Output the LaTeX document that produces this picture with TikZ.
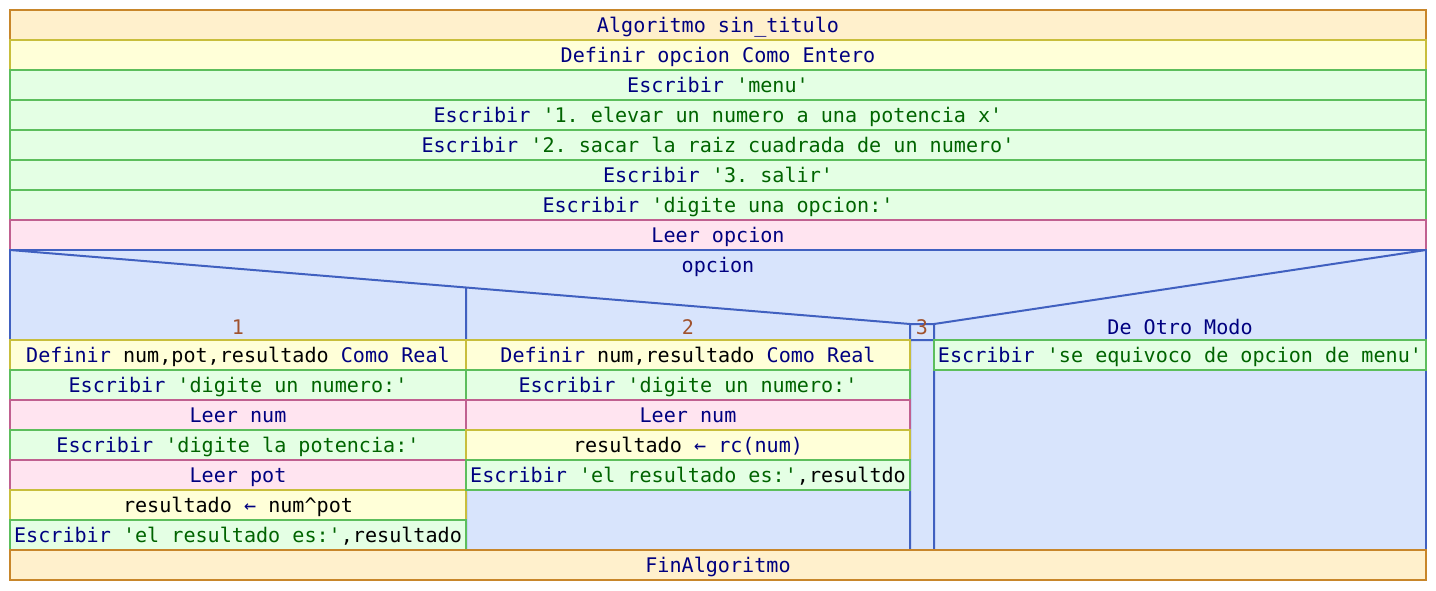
\documentclass[tikz,border=0pt]{standalone}
\usepackage{fontspec}
\setmonofont{DejaVu Sans Mono}
\definecolor{kwblue}{RGB}{0,0,128}
\definecolor{strgreen}{RGB}{0,100,0}
\definecolor{numbrown}{RGB}{160,82,45}
\definecolor{algfill}{RGB}{255,240,204}
\definecolor{algline}{RGB}{200,134,42}
\definecolor{deffill}{RGB}{255,255,216}
\definecolor{defline}{RGB}{200,190,60}
\definecolor{escfill}{RGB}{228,255,228}
\definecolor{escline}{RGB}{92,190,92}
\definecolor{leerfill}{RGB}{255,228,240}
\definecolor{leerline}{RGB}{192,96,144}
\definecolor{segfill}{RGB}{216,228,252}
\definecolor{segline}{RGB}{64,96,192}
\newcommand{\strg}[1]{\textcolor{strgreen}{#1}}
\newcommand{\vrb}[1]{\textcolor{black}{#1}}

\begin{document}
\begin{tikzpicture}[x=1pt,y=-1pt,
    every node/.style = {font=\ttfamily\fontsize{20.1}{24}\selectfont,
    text=kwblue, inner sep=0pt, outer sep=0pt, text height=17pt, text depth=3pt},
    cell/.style={draw, line width=2pt, minimum height=30pt},
    calg/.style={cell, fill=algfill, draw=algline},
    cdef/.style={cell, fill=deffill, draw=defline},
    cesc/.style={cell, fill=escfill, draw=escline},
    cleer/.style={cell, fill=leerfill, draw=leerline},
    cseg/.style={cell, fill=segfill, draw=segline},
    sline/.style={draw=segline, line width=2pt},
    lbl/.style={text=numbrown},
    wide/.style={minimum width=1416pt},
    col1/.style={minimum width=456pt},
    col2/.style={minimum width=444pt},
    col4/.style={minimum width=492pt}]
    \useasboundingbox (0,0) rectangle (1436,590);
    \node[calg, wide] (alg) at (718,25) {Algoritmo sin\_titulo};
    \node[cdef, wide] (def) at (718,55) {Definir opcion Como Entero};
    \node[cesc, wide] (e1) at (718,85) {Escribir \strg{'menu'}};
    \node[cesc, wide] (e2) at (718,115) {Escribir \strg{'1. elevar un numero a una potencia x'}};
    \node[cesc, wide] (e3) at (718,145) {Escribir \strg{'2. sacar la raiz cuadrada de un numero'}};
    \node[cesc, wide] (e4) at (718,175) {Escribir \strg{'3. salir'}};
    \node[cesc, wide] (e5) at (718,205) {Escribir \strg{'digite una opcion:'}};
    \node[cleer, wide] (leer) at (718,235) {Leer opcion};
    \node[cseg, wide, minimum height=300pt] (seg) at (718,400) {};
    \node (sel) at (718,265) {opcion};
    \coordinate (d1) at (466,287.5);
    \coordinate (c3l) at (910,324);
    \coordinate (c3r) at (934,324);
    \coordinate (b3l) at (910,340);
    \coordinate (b3r) at (934,340);
    \path[sline]
        (seg.north west) -- (c3l) -- (c3r) -- (seg.north east)
        (b3l) -- (b3r)
        (d1) -- (d1 |- seg.south)
        (c3l) -- (c3l |- seg.south)
        (c3r) -- (c3r |- seg.south);
    \node[lbl] (l1) at (238,327) {1};
    \node[lbl] (l2) at (688,327) {2};
    \node[lbl] (l3) at (922,327) {3};
    \node (l4) at (1180,327) {De Otro Modo};
    \node[cdef, col1] (a1) at (238,355) {Definir \vrb{num,pot,resultado} Como Real};
    \node[cesc, col1] (a2) at (238,385) {Escribir \strg{'digite un numero:'}};
    \node[cleer, col1] (a3) at (238,415) {Leer num};
    \node[cesc, col1] (a4) at (238,445) {Escribir \strg{'digite la potencia:'}};
    \node[cleer, col1] (a5) at (238,475) {Leer pot};
    \node[cdef, col1] (a6) at (238,505) {\vrb{resultado} ← \vrb{num\textasciicircum pot}};
    \node[cesc, col1] (a7) at (238,535) {Escribir \strg{'el resultado es:'}\vrb{,resultado}};
    \node[cdef, col2] (b1) at (688,355) {Definir \vrb{num,resultado} Como Real};
    \node[cesc, col2] (b2) at (688,385) {Escribir \strg{'digite un numero:'}};
    \node[cleer, col2] (b3) at (688,415) {Leer num};
    \node[cdef, col2] (b4) at (688,445) {\vrb{resultado} ← rc(num)};
    \node[cesc, col2] (b5) at (688,475) {Escribir \strg{'el resultado es:'}\vrb{,resultdo}};
    \node[cesc, col4] (c1) at (1180,355) {Escribir \strg{'se equivoco de opcion de menu'}};
    \node[calg, wide] (fin) at (718,565) {FinAlgoritmo};
\end{tikzpicture}
\end{document}
